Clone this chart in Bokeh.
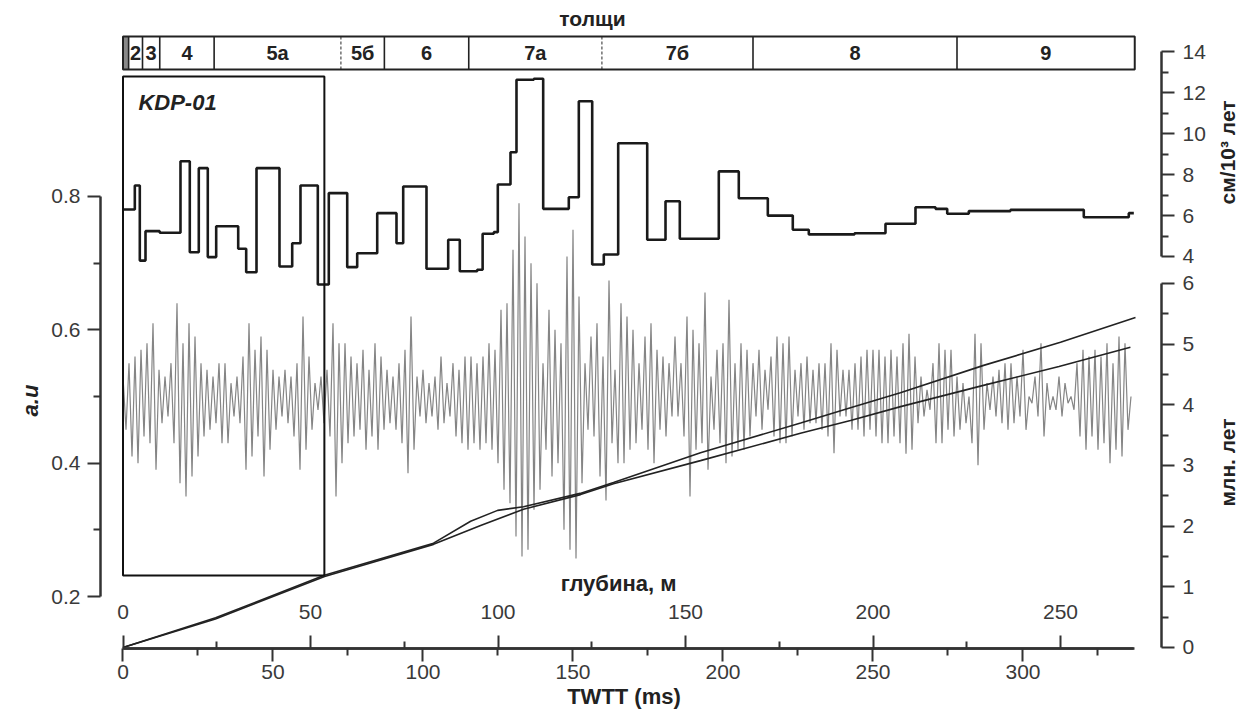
from math import pi
from bokeh.plotting import figure
from bokeh.models import Range1d, LinearAxis, FixedTicker, Label, ColumnDataSource
from bokeh.core.properties import value
from bokeh.embed import file_html
from bokeh.resources import INLINE

FONT = "Liberation Sans"

# ---------------- data ----------------
# толщи (layers) along depth, m
layer_names = ["2", "3", "4", "5а", "5б", "6", "7а", "7б", "8", "9"]
layer_top_m = [1.5, 5.2, 9.8, 24.3, 58.1, 69.7, 92.2, 127.7, 168.0, 222.4]
layer_bot_m = [5.2, 9.8, 24.3, 58.1, 69.7, 92.2, 127.7, 168.0, 222.4, 269.8]
layer1_m = [0.0, 1.5]
solid_bounds_m = [1.5, 5.2, 9.8, 24.3, 69.7, 92.2, 168.0, 222.4]
dashed_bounds_m = [58.1, 127.7]

# sedimentation rate (cm/kyr) steps vs depth (m)
rate_edges_m = [0, 3.15, 4.48, 6.0, 9.8, 15.33, 17.81, 20.21, 22.61, 24.85, 30.72, 32.85,
                35.6, 41.73, 45.12, 47.33, 51.95, 54.88, 59.79, 62.45, 67.79, 72.93, 74.72,
                80.93, 86.72, 89.81, 94.45, 95.9, 98.88, 99.95, 103.33, 104.93, 109.55,
                112.05, 118.88, 121.55, 125.12, 128.21, 132.05, 139.79, 144.67, 148.48,
                158.88, 164.21, 171.95, 178.61, 182.88, 195.07, 203.33, 211.33, 216.67,
                219.79, 225.55, 236.67, 256.21, 268.21, 269.55]
rate_vals = [6.30, 7.47, 3.80, 5.24, 5.16, 8.66, 4.21, 8.32, 3.97, 5.48,
             4.38, 3.23, 8.32, 3.51, 4.65, 7.47, 2.63, 7.10, 3.48, 4.16,
             6.12, 4.65, 7.42, 3.40, 4.82, 3.28, 3.35, 5.11, 5.19, 7.52,
             9.10, 12.64, 12.69, 6.33, 6.90, 11.59, 3.61, 4.10, 9.54, 4.82,
             6.70, 4.87, 8.16, 6.85, 6.00, 5.31, 5.08, 5.14, 5.60, 6.41,
             6.33, 6.09, 6.22, 6.28, 5.92, 6.12]

# seismic trace, a.u., one value per ms of TWTT starting at 0 ms
trace_au = [
    0.53, 0.45, 0.55, 0.41, 0.56, 0.40, 0.57, 0.44, 0.58, 0.43,
    0.61, 0.39, 0.54, 0.46, 0.53, 0.47, 0.55, 0.43, 0.64, 0.37,
    0.58, 0.35, 0.61, 0.38, 0.59, 0.41, 0.55, 0.44, 0.54, 0.45,
    0.53, 0.46, 0.55, 0.43, 0.55, 0.43, 0.52, 0.47, 0.53, 0.46,
    0.56, 0.39, 0.61, 0.41, 0.57, 0.44, 0.59, 0.38, 0.57, 0.42,
    0.54, 0.45, 0.53, 0.47, 0.54, 0.46, 0.53, 0.44, 0.55, 0.39,
    0.62, 0.42, 0.56, 0.45, 0.52, 0.48, 0.53, 0.46, 0.54, 0.44,
    0.61, 0.35, 0.58, 0.40, 0.58, 0.43, 0.56, 0.44, 0.55, 0.45,
    0.57, 0.42, 0.54, 0.44, 0.58, 0.42, 0.56, 0.45, 0.54, 0.46,
    0.53, 0.45, 0.55, 0.43, 0.57, 0.385, 0.62, 0.42, 0.53, 0.47,
    0.54, 0.46, 0.52, 0.47, 0.53, 0.45, 0.56, 0.46, 0.52, 0.47,
    0.55, 0.44, 0.54, 0.43, 0.56, 0.42, 0.56, 0.43, 0.55, 0.42,
    0.56, 0.43, 0.58, 0.42, 0.57, 0.40, 0.63, 0.36, 0.64, 0.34,
    0.72, 0.29, 0.79, 0.26, 0.74, 0.27, 0.70, 0.33, 0.67, 0.36,
    0.55, 0.42, 0.63, 0.38, 0.60, 0.40, 0.58, 0.30, 0.71, 0.27,
    0.75, 0.257, 0.65, 0.37, 0.55, 0.45, 0.59, 0.44, 0.61, 0.38,
    0.56, 0.344, 0.674, 0.43, 0.54, 0.40, 0.64, 0.40, 0.62, 0.42,
    0.60, 0.43, 0.55, 0.45, 0.59, 0.42, 0.61, 0.40, 0.57, 0.45,
    0.56, 0.44, 0.55, 0.47, 0.59, 0.47, 0.55, 0.44, 0.62, 0.35,
    0.60, 0.42, 0.58, 0.43, 0.656, 0.39, 0.53, 0.45, 0.57, 0.43,
    0.58, 0.40, 0.645, 0.41, 0.55, 0.42, 0.58, 0.42, 0.57, 0.44,
    0.55, 0.47, 0.57, 0.45, 0.54, 0.48, 0.56, 0.44, 0.59, 0.43,
    0.58, 0.43, 0.59, 0.44, 0.54, 0.47, 0.55, 0.45, 0.56, 0.46,
    0.54, 0.46, 0.55, 0.45, 0.55, 0.44, 0.58, 0.415, 0.57, 0.47,
    0.54, 0.47, 0.54, 0.45, 0.55, 0.45, 0.56, 0.44, 0.57, 0.45,
    0.57, 0.44, 0.57, 0.43, 0.56, 0.43, 0.57, 0.44, 0.56, 0.43,
    0.58, 0.414, 0.594, 0.42, 0.56, 0.46, 0.53, 0.47, 0.51, 0.48,
    0.55, 0.43, 0.58, 0.43, 0.57, 0.45, 0.57, 0.44, 0.53, 0.45,
    0.52, 0.46, 0.50, 0.43, 0.594, 0.397, 0.58, 0.45, 0.52, 0.48,
    0.53, 0.47, 0.54, 0.46, 0.55, 0.45, 0.55, 0.46, 0.53, 0.47,
    0.57, 0.45, 0.50, 0.49, 0.53, 0.47, 0.58, 0.44, 0.52, 0.48,
    0.50, 0.48, 0.53, 0.47, 0.52, 0.49, 0.50, 0.48, 0.55, 0.44,
    0.57, 0.42, 0.56, 0.44, 0.57, 0.42, 0.56, 0.43, 0.58, 0.40,
    0.55, 0.42, 0.59, 0.41, 0.58, 0.45, 0.50,
]
trace_ms = list(range(len(trace_au)))

# age models (Ma)
age1_depth_m = [0, 24.7, 53.7, 82.8, 92.7, 99.9, 106.8, 121.9, 130.8, 154.0, 180.7, 194.0,
                207.3, 229.5, 250.0, 270.0]
age1_ma = [0, 0.49, 1.19, 1.72, 2.08, 2.26, 2.32, 2.54, 2.72, 3.21, 3.70, 3.95, 4.20,
           4.65, 5.03, 5.44]
age2_twtt_ms = [0, 30.8, 67.2, 103.5, 119.2, 133.5, 152.5, 163.5, 192.5, 225.8, 242.5,
                259.2, 286.8, 312.0, 335.8]
age2_ma = [0, 0.47, 1.17, 1.70, 2.01, 2.28, 2.52, 2.70, 3.08, 3.53, 3.74, 3.97, 4.32,
           4.63, 4.95]

# KDP-01 core interval
kdp_depth_m = [0.0, 53.7]

twtt_ticks = [0, 50, 100, 150, 200, 250, 300]
twtt_minor = [25, 75, 125, 175, 225, 275, 325]
depth_ticks = [0, 50, 100, 150, 200, 250]
depth_minor = [25, 75, 125, 175, 225]
au_ticks = [0.2, 0.4, 0.6, 0.8]
au_minor = [0.3, 0.5, 0.7]
rate_ticks = [4, 6, 8, 10, 12, 14]
rate_minor = [5, 7, 9, 11, 13]
age_ticks = [0, 1, 2, 3, 4, 5, 6]
age_minor = [0.5, 1.5, 2.5, 3.5, 4.5, 5.5]

# ---------------- figure ----------------
W, H = 1240, 709
p = figure(width=W, height=H, output_backend="svg", toolbar_location=None,
           x_axis_location=None, y_axis_location=None, min_border=0,
           x_range=Range1d(-40.833, 372.5), y_range=Range1d(0.03051, 1.09396))
p.outline_line_color = None
p.background_fill_color = "white"
p.border_fill_color = "white"
p.grid.grid_line_color = None
p.extra_x_ranges = {"depth": Range1d(-32.667, 298.0)}
p.extra_y_ranges = {"rate": Range1d(-18.152, 16.518),
                    "age": Range1d(-1.0219, 10.664),
                    "band": Range1d(-19.394, 2.0909)}

INK = "#222222"
AX = "#333333"

# seismic trace
p.line(trace_ms, trace_au, line_color="#858585", line_width=1.2)

# age models
p.line(age1_depth_m, age1_ma, x_range_name="depth", y_range_name="age",
       line_color=INK, line_width=1.6)
p.line(age2_twtt_ms, age2_ma, y_range_name="age", line_color=INK, line_width=1.6)

# sedimentation rate step line
p.step(rate_edges_m, rate_vals + [rate_vals[-1]], mode="after",
       x_range_name="depth", y_range_name="rate", line_color="#1a1a1a", line_width=2.6)

# KDP-01 box
p.quad(left=[kdp_depth_m[0]], right=[kdp_depth_m[1]], bottom=[0.2315], top=[0.98],
       x_range_name="depth", fill_color=None, line_color="#111111", line_width=2)
p.add_layout(Label(x=4.1, y=0.941, x_range_name="depth", text="KDP-01",
                   text_font=FONT, text_font_style="bold italic", text_font_size="22px",
                   text_color="#222222", text_align="left", text_baseline="middle"))

# strip of толщи
p.quad(left=[layer1_m[0]], right=[layer1_m[1]], bottom=[0], top=[1],
       x_range_name="depth", y_range_name="band", fill_color="#888888",
       line_color=None)
p.segment(x0=solid_bounds_m, y0=[0] * len(solid_bounds_m),
          x1=solid_bounds_m, y1=[1] * len(solid_bounds_m),
          x_range_name="depth", y_range_name="band", line_color="#222222", line_width=1.6)
p.segment(x0=dashed_bounds_m, y0=[0] * len(dashed_bounds_m),
          x1=dashed_bounds_m, y1=[1] * len(dashed_bounds_m),
          x_range_name="depth", y_range_name="band", line_color="#777777",
          line_width=1.6, line_dash="3 2")
p.quad(left=[0], right=[layer_bot_m[-1]], bottom=[0], top=[1],
       x_range_name="depth", y_range_name="band", fill_color=None,
       line_color="#222222", line_width=2)
lab_src = ColumnDataSource(dict(
    x=[(a + b) / 2 for a, b in zip(layer_top_m, layer_bot_m)],
    y=[0.5] * len(layer_names), t=layer_names))
p.text(x="x", y="y", text="t", source=lab_src, x_range_name="depth", y_range_name="band",
       text_font=value(FONT), text_font_style="bold", text_font_size="20px",
       text_color="#222222", text_align="center", text_baseline="middle")
p.add_layout(Label(x=125.2, y=1.545, x_range_name="depth", y_range_name="band",
                   text="толщи", text_font=FONT, text_font_style="bold",
                   text_font_size="21px", text_color="#222222",
                   text_align="center", text_baseline="middle"))


def style_axis(ax, standoff):
    ax.axis_line_color = AX
    ax.axis_line_width = 2.5
    ax.major_tick_line_color = AX
    ax.major_tick_line_width = 2
    ax.minor_tick_line_color = AX
    ax.minor_tick_line_width = 2
    ax.major_tick_out = 13
    ax.major_tick_in = 0
    ax.minor_tick_out = 7
    ax.minor_tick_in = 0
    ax.major_label_text_font = FONT
    ax.major_label_text_font_size = "21px"
    ax.major_label_text_color = "#3a3a3a"
    ax.major_label_standoff = standoff


BASE = 0.122  # a.u. level of the common horizontal axis line
RIGHT_X = 346.2  # TWTT position of right-hand axes

ax_t = LinearAxis(ticker=FixedTicker(ticks=twtt_ticks, minor_ticks=twtt_minor),
                  bounds=(0, 337), fixed_location=BASE)
style_axis(ax_t, 3)
p.add_layout(ax_t, "below")

ax_d = LinearAxis(x_range_name="depth",
                  ticker=FixedTicker(ticks=depth_ticks, minor_ticks=depth_minor),
                  bounds=(0, 269.8), fixed_location=BASE)
style_axis(ax_d, 17)
p.add_layout(ax_d, "above")

ax_l = LinearAxis(ticker=FixedTicker(ticks=au_ticks, minor_ticks=au_minor),
                  bounds=(0.2, 0.8), fixed_location=-7.5)
style_axis(ax_l, 7)
p.add_layout(ax_l, "left")

ax_r = LinearAxis(y_range_name="rate",
                  ticker=FixedTicker(ticks=rate_ticks, minor_ticks=rate_minor),
                  bounds=(4, 14), fixed_location=RIGHT_X)
style_axis(ax_r, 8)
p.add_layout(ax_r, "right")

ax_a = LinearAxis(y_range_name="age",
                  ticker=FixedTicker(ticks=age_ticks, minor_ticks=age_minor),
                  bounds=(0, 6), fixed_location=RIGHT_X)
style_axis(ax_a, 8)
p.add_layout(ax_a, "right")


# axis titles
def title(x, y, text, angle=0.0, italic=False, xr="default", yr="default", size="22px"):
    p.add_layout(Label(x=x, y=y, x_range_name=xr, y_range_name=yr, text=text,
                       angle=angle, text_font=FONT,
                       text_font_style="bold italic" if italic else "bold",
                       text_font_size=size, text_color="#222222",
                       text_align="center", text_baseline="middle"))


title(165.2, 0.2195, "глубина, м")
title(167.0, 0.05, "TWTT (ms)")
title(-30.8, 0.494, "a.u", angle=pi / 2, italic=True)
title(368.3, 9.09, "см/10³ лет", angle=pi / 2, yr="rate", size="21px")
title(368.3, 3.05, "млн. лет", angle=pi / 2, yr="age", size="21px")

open("out.html", "w").write(file_html(p, INLINE))
